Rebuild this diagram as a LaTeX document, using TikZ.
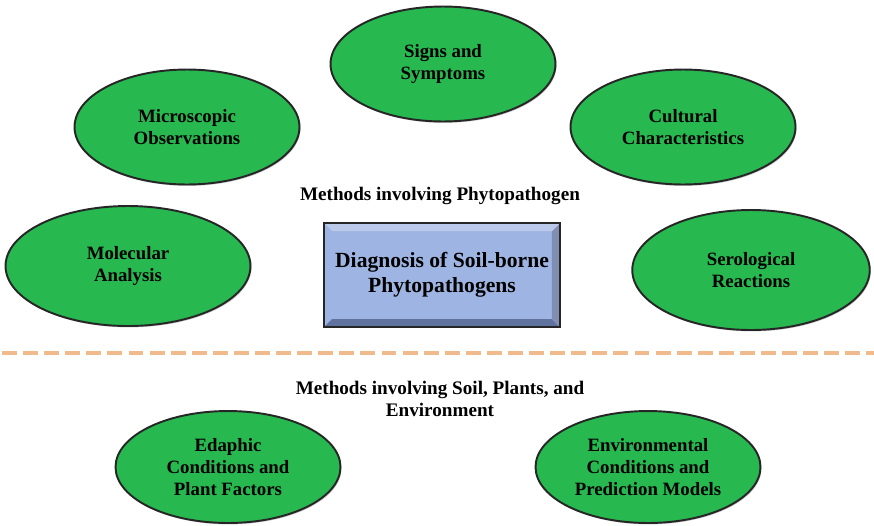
\documentclass[tikz,border=0pt]{standalone}
\usepackage{fontspec}
\setmainfont{Liberation Serif}
\usetikzlibrary{shapes.geometric, shadows}
\definecolor{leafgreen}{RGB}{40,184,80}
\definecolor{boxblue}{RGB}{158,180,226}
\definecolor{bevelblue}{RGB}{96,114,158}
\definecolor{dashorange}{RGB}{240,186,140}

\begin{document}
\begin{tikzpicture}[x=0.02cm, y=-0.02cm,
  method/.style={ellipse, draw=black!85, line width=1.1pt, fill=leafgreen, inner sep=0pt,
    minimum width=4.5cm, minimum height=2.3cm, align=center,
    font=\fontsize{10.7}{12.4}\selectfont\bfseries, drop shadow={shadow xshift=0.6pt, shadow yshift=-0.8pt, opacity=0.4}},
  mainbox/.style={rectangle, draw=black!85, line width=1pt, fill=boxblue, align=center,
    minimum width=4.72cm, minimum height=2.08cm, font=\fontsize{12.3}{14.5}\selectfont\bfseries,
    path picture={
      \fill[bevelblue] (path picture bounding box.south west) -- (path picture bounding box.south east)
        -- ([shift={(-0.16cm,0.16cm)}]path picture bounding box.south east)
        -- ([shift={(0.16cm,0.16cm)}]path picture bounding box.south west) -- cycle;
      \fill[bevelblue!80] (path picture bounding box.south east) -- (path picture bounding box.north east)
        -- ([shift={(-0.16cm,-0.16cm)}]path picture bounding box.north east)
        -- ([shift={(-0.16cm,0.16cm)}]path picture bounding box.south east) -- cycle;
      \fill[boxblue!70!white] (path picture bounding box.north west) -- (path picture bounding box.north east)
        -- ([shift={(-0.16cm,-0.16cm)}]path picture bounding box.north east)
        -- ([shift={(0.16cm,-0.16cm)}]path picture bounding box.north west) -- cycle;
    }},
  caption/.style={align=center, font=\fontsize{10.9}{13}\selectfont\bfseries}
]
\useasboundingbox (0,0) rectangle (874,525);

% upper group: methods involving the pathogen
\node[method] (signs) at (443,64) {Signs and\\Symptoms};
\node[method] (micro) at (187,127) {Microscopic\\Observations};
\node[method] (cult) at (683,127) {Cultural\\Characteristics};
\node[method, minimum width=4.9cm, minimum height=2.4cm] (mol) at (128,266) {Molecular\\Analysis};
\node[method, minimum width=4.75cm, minimum height=2.4cm] (sero) at (751,270) {Serological\\Reactions};
\node[caption] (phyto) at (440,196) {Methods involving Phytopathogen};
\node[mainbox] (diag) at (442,275) {Diagnosis of Soil-borne\\Phytopathogens};

% separator
\coordinate (sepL) at (2,353);
\coordinate (sepR) at (874,353);
\draw[dashorange, line width=2.4pt, dash pattern=on 8.5pt off 3.5pt] (sepL) -- (sepR);

% lower group: soil, plants and environment
\node[caption] (soil) at (440,399) {Methods involving Soil, Plants, and\\Environment};
\node[method, minimum height=2.24cm] (edaph) at (228,467) {Edaphic\\Conditions and\\Plant Factors};
\node[method, minimum height=2.24cm] (env) at (648,467) {Environmental\\Conditions and\\Prediction Models};
\end{tikzpicture}
\end{document}
